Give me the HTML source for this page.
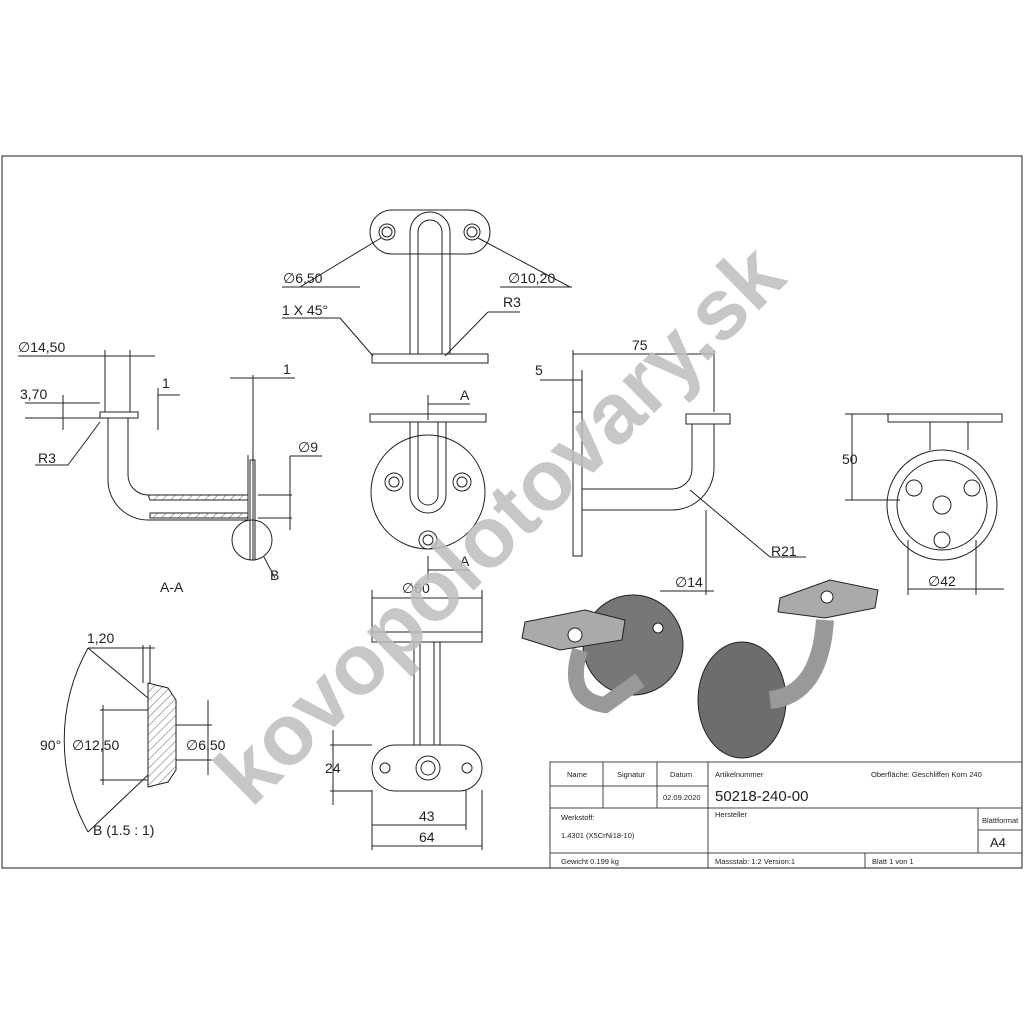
<!DOCTYPE html>
<html><head><meta charset="utf-8"><style>
html,body{margin:0;padding:0;background:#fff}
svg{display:block}
text{font-family:"Liberation Sans",sans-serif;fill:#222}
</style></head><body>
<svg width="1024" height="1024" viewBox="0 0 1024 1024" xmlns="http://www.w3.org/2000/svg">
<defs>
<pattern id="h" width="6" height="6" patternUnits="userSpaceOnUse" patternTransform="rotate(45)"><line x1="0" y1="0" x2="0" y2="6" stroke="#333" stroke-width="0.8"/></pattern>
<marker id="a" markerWidth="8" markerHeight="6" refX="8" refY="3" orient="auto"><path d="M0,0 L8,3 L0,6z" fill="#222"/></marker>
</defs>
<rect x="2" y="156" width="1020" height="712" fill="none" stroke="#444" stroke-width="1.2"/>
<g stroke="#222" fill="none" stroke-width="1">
<!-- top view -->
<rect x="370" y="210" width="120" height="44" rx="22"/>
<circle cx="387" cy="232" r="8"/><circle cx="387" cy="232" r="5"/>
<circle cx="472" cy="232" r="8"/><circle cx="472" cy="232" r="5"/>
<path d="M410,354 V232 a20,20 0 0 1 40,0 V354"/>
<path d="M418,354 V232 a12,12 0 0 1 24,0 V354"/>
<rect x="372" y="354" width="116" height="9"/>
<line x1="300" y1="287" x2="381" y2="238"/><line x1="570" y1="287" x2="478" y2="238"/>
<line x1="282" y1="287" x2="360" y2="287"/><line x1="500" y1="287" x2="572" y2="287"/>
<line x1="282" y1="318" x2="340" y2="318"/><line x1="340" y1="318" x2="373" y2="356"/>
<line x1="488" y1="312" x2="520" y2="312"/><line x1="488" y1="312" x2="445" y2="356"/>
<!-- front view -->
<rect x="370" y="414" width="116" height="8"/>
<circle cx="428" cy="492" r="57"/>
<circle cx="394" cy="482" r="9"/><circle cx="394" cy="482" r="5"/>
<circle cx="462" cy="482" r="9"/><circle cx="462" cy="482" r="5"/>
<circle cx="428" cy="540" r="9"/><circle cx="428" cy="540" r="5"/>
<path d="M410,422 V495 a18,18 0 0 0 36,0 V422"/>
<path d="M418,422 V495 a10,10 0 0 0 20,0 V422"/>
<line x1="428" y1="395" x2="428" y2="420"/><line x1="428" y1="404" x2="470" y2="404"/>
<line x1="428" y1="580" x2="428" y2="556"/><line x1="428" y1="570" x2="470" y2="570"/>
<!-- bottom view -->
<rect x="372" y="632" width="110" height="10"/>
<path d="M414,642 V745 M440,642 V745 M420,642 V745 M434,642 V745"/>
<rect x="372" y="745" width="110" height="46" rx="23"/>
<circle cx="385" cy="768" r="5"/><circle cx="467" cy="768" r="5"/>
<circle cx="428" cy="768" r="12"/><circle cx="428" cy="768" r="7"/>
<line x1="372" y1="598" x2="482" y2="598"/><line x1="372" y1="590" x2="372" y2="632"/><line x1="482" y1="590" x2="482" y2="632"/>
<line x1="372" y1="825" x2="466" y2="825"/><line x1="372" y1="846" x2="482" y2="846"/>
<line x1="372" y1="790" x2="372" y2="850"/><line x1="482" y1="790" x2="482" y2="850"/><line x1="466" y1="790" x2="466" y2="830"/>
<line x1="330" y1="745" x2="372" y2="745"/><line x1="330" y1="791" x2="372" y2="791"/><line x1="333" y1="730" x2="333" y2="805"/>
<!-- side view -->
<rect x="573" y="412" width="9" height="144"/>
<path d="M582,489 H672 a20,20 0 0 0 20,-20 V424 M582,510 H672 a42,42 0 0 0 42,-42 V424"/>
<rect x="686" y="414" width="44" height="10"/>
<line x1="573" y1="354" x2="714" y2="354"/><line x1="573" y1="350" x2="573" y2="412"/><line x1="714" y1="350" x2="714" y2="412"/>
<line x1="540" y1="380" x2="582" y2="380"/><line x1="582" y1="370" x2="582" y2="412"/>
<line x1="690" y1="490" x2="770" y2="557"/><line x1="770" y1="557" x2="806" y2="557"/>
<line x1="660" y1="591" x2="714" y2="591"/><line x1="706" y1="510" x2="706" y2="595"/>
<!-- right view -->
<rect x="888" y="414" width="114" height="8"/>
<path d="M930,422 V450 M968,422 V450"/>
<circle cx="942" cy="505" r="55"/><circle cx="942" cy="505" r="45"/>
<circle cx="914" cy="488" r="8"/><circle cx="972" cy="488" r="8"/><circle cx="942" cy="540" r="8"/><circle cx="942" cy="505" r="9"/>
<line x1="845" y1="414" x2="888" y2="414"/><line x1="845" y1="500" x2="900" y2="500"/><line x1="852" y1="414" x2="852" y2="500"/>
<line x1="908" y1="589" x2="1004" y2="589"/><line x1="908" y1="540" x2="908" y2="595"/><line x1="976" y1="540" x2="976" y2="595"/>
<!-- section A-A -->
<path d="M108,418 V480 a40,40 0 0 0 40,40 H248 V455 M128,418 V475 a20,20 0 0 0 20,20 H248" />
<rect x="100" y="412" width="38" height="6"/>
<rect x="250" y="460" width="5" height="100"/>
<path d="M148,495 H248 V500 H150z" fill="url(#h)"/><path d="M150,513 H248 V518 H150z" fill="url(#h)"/>
<circle cx="252" cy="540" r="20"/>
<line x1="264" y1="557" x2="275" y2="578"/>
<line x1="18" y1="356" x2="155" y2="356"/><line x1="105" y1="350" x2="105" y2="412"/><line x1="130" y1="350" x2="130" y2="412"/>
<line x1="25" y1="403" x2="100" y2="403"/><line x1="25" y1="418" x2="100" y2="418"/><line x1="63" y1="395" x2="63" y2="430"/>
<line x1="158" y1="395" x2="180" y2="395"/><line x1="158" y1="388" x2="158" y2="430"/>
<line x1="230" y1="378" x2="295" y2="378"/><line x1="253" y1="375" x2="253" y2="560"/>
<line x1="290" y1="456" x2="322" y2="456"/><line x1="290" y1="456" x2="290" y2="530"/><line x1="258" y1="495" x2="292" y2="495"/><line x1="258" y1="518" x2="292" y2="518"/>
<line x1="35" y1="465" x2="68" y2="465"/><line x1="68" y1="465" x2="100" y2="422"/>
<!-- detail B -->
<path d="M148,683 L168,688 L176,700 V770 L168,782 L148,787z" fill="url(#h)"/>
<path d="M148,683 V787"/>
<line x1="88" y1="648" x2="148" y2="698"/><line x1="88" y1="832" x2="148" y2="775"/>
<path d="M88,648 A190,190 0 0 0 88,832"/>
<line x1="100" y1="710" x2="148" y2="710"/><line x1="100" y1="780" x2="148" y2="780"/><line x1="103" y1="705" x2="103" y2="785"/>
<line x1="176" y1="725" x2="212" y2="725"/><line x1="176" y1="760" x2="212" y2="760"/><line x1="208" y1="700" x2="208" y2="775"/>
<line x1="88" y1="648" x2="155" y2="648"/><line x1="143" y1="645" x2="143" y2="683"/><line x1="150" y1="645" x2="150" y2="683"/>
</g>
<!-- isometric shaded -->
<g stroke="#222" stroke-width="1">
<circle cx="633" cy="645" r="50" fill="#777"/>
<circle cx="608" cy="628" r="5" fill="#fff"/><circle cx="658" cy="628" r="5" fill="#fff"/><circle cx="636" cy="685" r="5" fill="#fff"/>
<path d="M580,650 Q565,700 605,705 L640,680" fill="none" stroke="#999" stroke-width="16"/>
<path d="M525,622 L585,610 L625,620 L622,640 L560,650 L522,638z" fill="#aaa"/>
<circle cx="575" cy="635" r="7" fill="#fff"/>
<ellipse cx="742" cy="700" rx="44" ry="58" fill="#6d6d6d"/>
<path d="M770,700 Q820,695 825,620" fill="none" stroke="#999" stroke-width="18"/>
<path d="M780,598 L830,580 L878,590 L875,608 L825,618 L778,612z" fill="#aaa"/>
<circle cx="827" cy="597" r="6" fill="#fff"/>
</g>
<!-- labels -->
<g font-size="14">
<text x="283" y="283">∅6,50</text><text x="508" y="283">∅10,20</text>
<text x="282" y="315">1 X 45°</text><text x="503" y="307">R3</text>
<text x="18" y="352">∅14,50</text><text x="20" y="399">3,70</text><text x="162" y="388">1</text><text x="283" y="374">1</text>
<text x="38" y="463">R3</text><text x="298" y="452">∅9</text><text x="270" y="580">B</text><text x="160" y="592">A-A</text>
<text x="460" y="400">A</text><text x="460" y="566">A</text>
<text x="402" y="593">∅60</text><text x="419" y="821">43</text><text x="419" y="842">64</text><text x="325" y="773">24</text>
<text x="535" y="375">5</text><text x="632" y="350">75</text><text x="771" y="556">R21</text><text x="675" y="587">∅14</text>
<text x="842" y="464">50</text><text x="928" y="586">∅42</text>
<text x="87" y="643">1,20</text><text x="40" y="750">90°</text><text x="72" y="750">∅12,50</text><text x="186" y="750">∅6,50</text>
<text x="93" y="835">B (1.5 : 1)</text>
</g>
<!-- title block -->
<g stroke="#444" fill="none" stroke-width="1">
<rect x="550" y="762" width="472" height="106"/>
<line x1="550" y1="808" x2="1022" y2="808"/><line x1="550" y1="853" x2="1022" y2="853"/>
<line x1="550" y1="786" x2="708" y2="786"/>
<line x1="603" y1="762" x2="603" y2="808"/><line x1="657" y1="762" x2="657" y2="808"/><line x1="708" y1="762" x2="708" y2="868"/>
<line x1="978" y1="808" x2="978" y2="853"/><line x1="978" y1="830" x2="1022" y2="830"/>
<line x1="865" y1="853" x2="865" y2="868"/>
</g>
<g font-size="7.5">
<text x="567" y="777">Name</text><text x="617" y="777">Signatur</text><text x="670" y="777">Datum</text>
<text x="715" y="777">Artikelnummer</text><text x="871" y="777">Oberfläche:  Geschliffen Korn 240</text>
<text x="663" y="800">02.09.2020</text>
<text x="561" y="820">Werkstoff:</text><text x="561" y="838">1.4301 (X5CrNi18-10)</text>
<text x="715" y="817">Hersteller</text><text x="982" y="823">Blattformat</text>
<text x="561" y="864">Gewicht 0.199 kg</text><text x="715" y="864">Massstab: 1:2     Version:1</text><text x="872" y="864">Blatt 1 von 1</text>
</g>
<text x="715" y="801" font-size="15">50218-240-00</text>
<text x="990" y="847" font-size="13">A4</text>
<!-- watermark -->
<text x="0" y="0" font-size="86" font-weight="bold" text-anchor="middle" fill="#bdbdbd" style="fill:#bdbdbd" fill-opacity="0.85" transform="translate(520,545) rotate(-44.5)">kovopolotovary.sk</text>
</svg>
</body></html>
